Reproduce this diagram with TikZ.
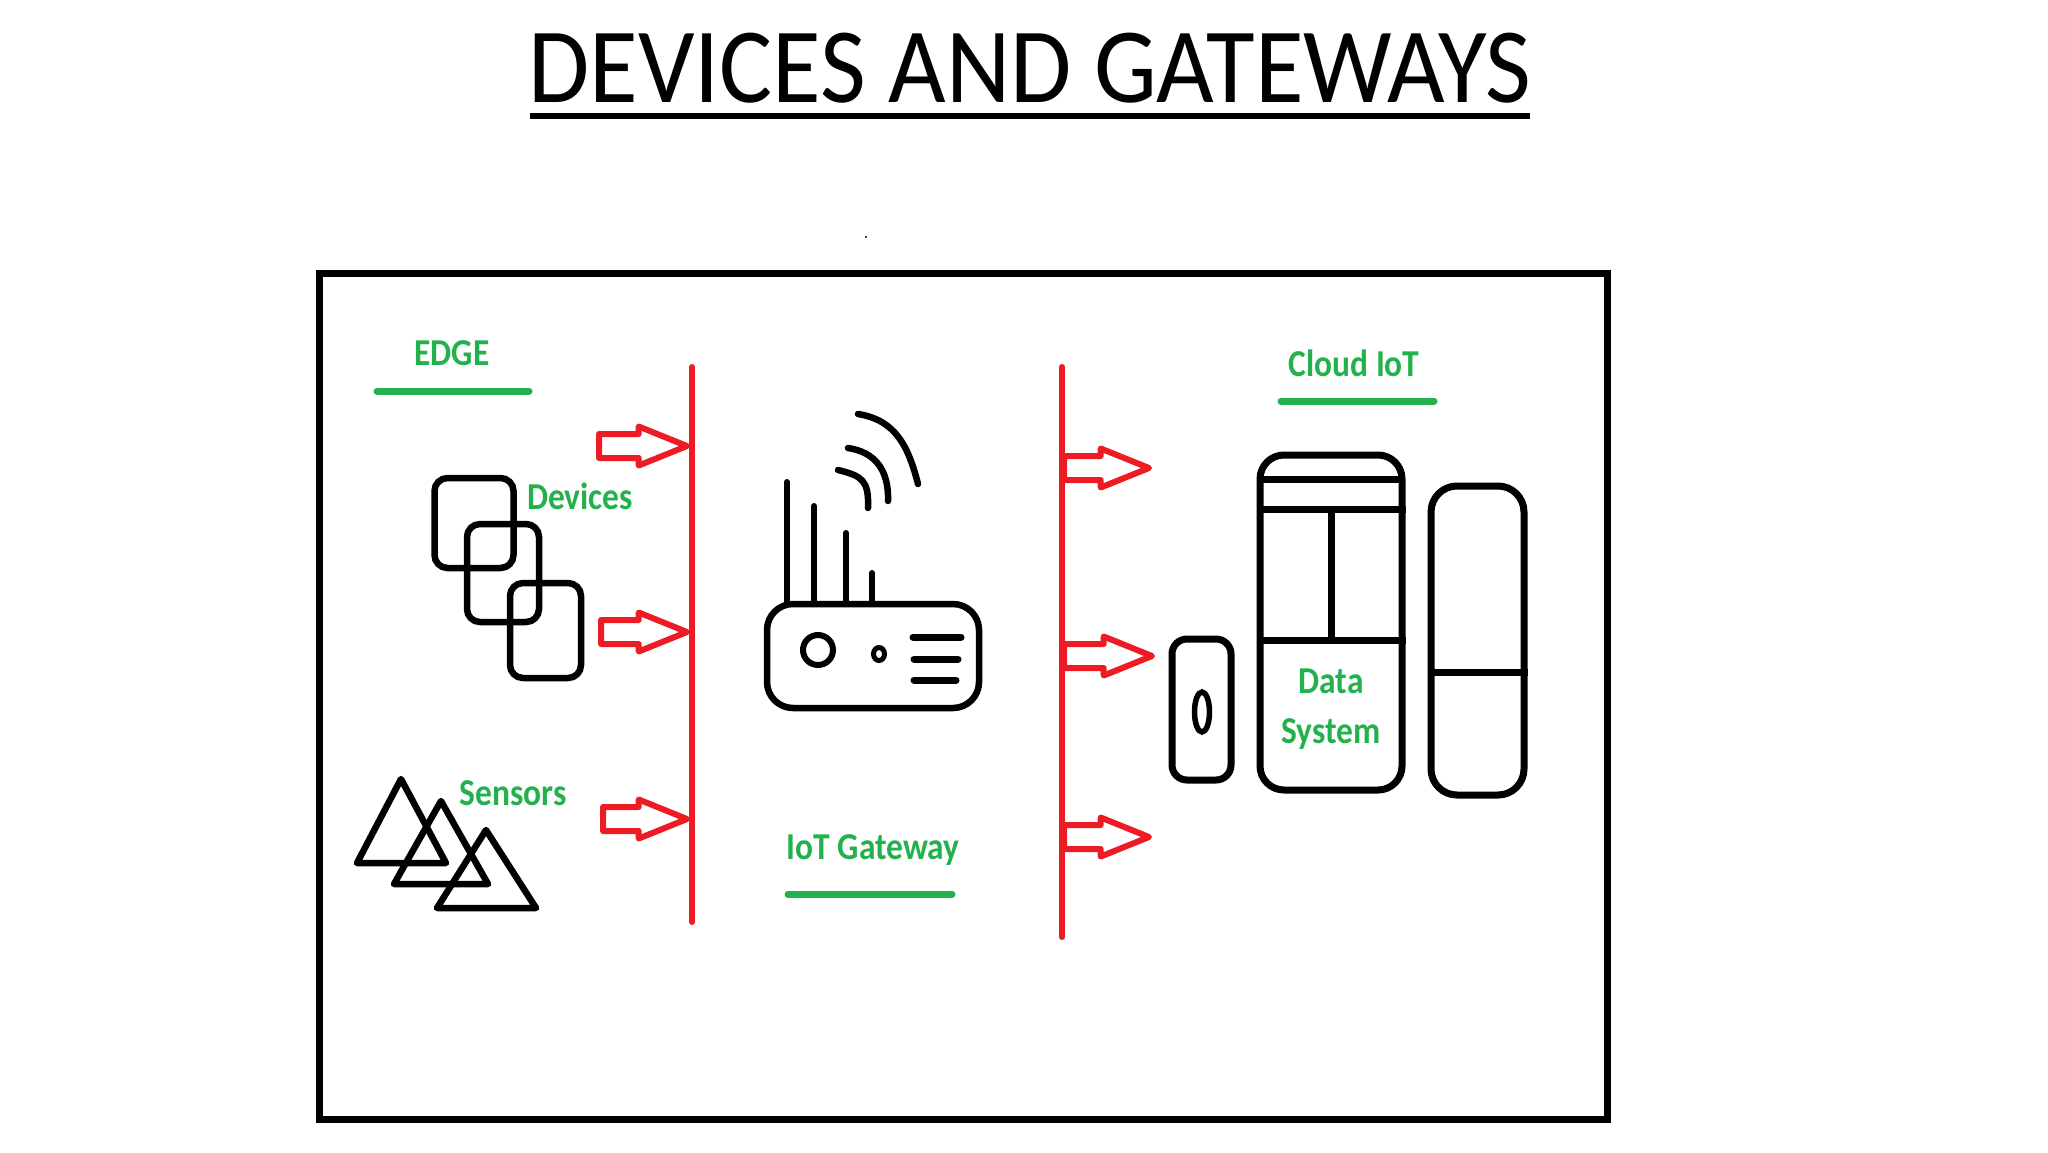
\documentclass[tikz,border=0pt]{standalone}
\usepackage{fontspec}
\setmainfont{Carlito}
\newfontfamily\titlefont{Carlito}[FakeStretch=0.93]
\newfontfamily\labelfont{Carlito}[FakeStretch=0.88]
\usetikzlibrary{shapes,arrows,positioning}
\definecolor{paintgreen}{HTML}{22B14C}
\definecolor{paintred}{HTML}{ED1C24}

\begin{document}
\begin{tikzpicture}[
    x=1pt, y=-1pt,
    title/.style={font=\titlefont\fontsize{107}{120}\selectfont, inner sep=0},
    label/.style={font=\labelfont\bfseries\fontsize{38}{50}\selectfont, text=paintgreen, inner sep=0, align=center},
    rule/.style={draw=paintgreen, line width=7pt, line cap=round},
    device/.style={rectangle, draw, line width=6.5pt, rounded corners=13pt, inner sep=0},
    sensor/.style={draw, line width=6.5pt, line join=round},
    bus/.style={draw=paintred, line width=6pt, line cap=round},
    flow/.style={single arrow, draw=paintred, line width=6pt, line join=round, inner sep=9pt, outer sep=0, minimum width=33pt, minimum height=88pt, single arrow head extend=7.5pt, single arrow tip angle=44},
    aerial/.style={draw, line width=6pt, line cap=round},
    wave/.style={draw, line width=6.5pt, line cap=round},
    slot/.style={draw, line width=7pt, line cap=round},
    part/.style={draw, line width=7pt}
]
\useasboundingbox (0,0) rectangle (2048,1152);

% Title
\node[title] (title) at (1030,68) {DEVICES AND GATEWAYS};
\draw[line width=5.5pt] (530,116) -- (1530,116);
\fill (866,237) circle (1.2pt);

% Outer frame
\node[rectangle, draw, line width=7pt, inner sep=0, minimum width=1288pt, minimum height=846pt] (frame) at (963.5,696) {};

% Edge
\node[label] (edge) at (452,353) {EDGE};
\draw[rule] (377,391) -- (529,391);

% Devices
\node[device, minimum width=79pt, minimum height=90pt] (dev_a) at (474,523) {};
\node[device, minimum width=72pt, minimum height=98pt] (dev_b) at (503,573) {};
\node[device, minimum width=71pt, minimum height=95pt] (dev_c) at (545.5,630.5) {};
\node[label] (devices) at (580,496) {Devices};

% Sensors
\draw[sensor] (401,779) -- (357,863) -- (446,863) -- cycle;
\draw[sensor] (441,801) -- (394,884) -- (488,884) -- cycle;
\draw[sensor] (486,830) -- (437,908) -- (536,908) -- cycle;
\node[label] (sensors) at (513,793) {Sensors};

% Arrows into left bus
\node[flow, anchor=tip] (in_a) at (687,446) {};
\node[flow, anchor=tip, minimum height=86pt] (in_b) at (687,632) {};
\node[flow, anchor=tip, minimum height=84pt] (in_c) at (687,819) {};
\draw[bus] (692,367) -- (692,922);

% Gateway body
\node[rectangle, draw, line width=6.5pt, rounded corners=26pt, inner sep=0, minimum width=212pt, minimum height=104pt] (router) at (873,656) {};
\node[circle, draw, line width=6pt, inner sep=0, minimum size=30pt] (lamp) at (818,650) {};
\node[ellipse, draw, line width=5pt, inner sep=0, minimum width=11pt, minimum height=13pt] (led) at (879,654) {};
\draw[slot] (913,637) -- (961,637);
\draw[slot] (914,659) -- (958,659);
\draw[slot] (914,680) -- (956,680);

% Aerials
\draw[aerial] (787,482) -- (787,604);
\draw[aerial] (814,506) -- (814,604);
\draw[aerial] (846,533) -- (846,604);
\draw[aerial] (872,573) -- (872,604);

% Signal waves
\draw[wave] (858,414) .. controls (895,420) and (908,445) .. (918,484);
\draw[wave] (848,448) .. controls (875,452) and (889,470) .. (888,501);
\draw[wave] (838,470) .. controls (862,476) and (869,480) .. (868,508);

% Gateway label
\node[label] (gateway) at (873,850) {IoT Gateway};
\draw[rule] (788,894) -- (952,894);

% Arrows out of right bus
\node[flow, anchor=tip, minimum height=85pt] (out_a) at (1149,468) {};
\node[flow, anchor=tip, minimum height=88pt] (out_b) at (1152,656) {};
\node[flow, anchor=tip, minimum height=85pt] (out_c) at (1149,837) {};
\draw[bus] (1062,367) -- (1062,937);

% Cloud label
\node[label] (cloud) at (1354,363) {Cloud IoT};
\draw[rule] (1281,401) -- (1434,401);

% Small unit
\node[rectangle, part, rounded corners=15pt, inner sep=0, minimum width=59pt, minimum height=141pt] (unit) at (1201.5,709.5) {};
\node[ellipse, draw, line width=5.5pt, inner sep=0, minimum width=15pt, minimum height=40pt] (unit_hole) at (1202,712) {};

% Data system
\node[rectangle, part, rounded corners=24pt, inner sep=0, minimum width=142pt, minimum height=335pt] (store) at (1331,622.5) {};
\draw[part] (1260,479) -- (1402,479);
\draw[part] (1260,509) -- (1406,509);
\draw[part] (1260,640) -- (1406,640);
\draw[part] (1331,509) -- (1331,637);
\node[label] (store_text) at (1331,709) {Data\\System};

% Right unit
\node[rectangle, part, rounded corners=26pt, inner sep=0, minimum width=93pt, minimum height=309pt] (rack) at (1477.5,640.5) {};
\draw[part] (1431,672) -- (1528,672);

\end{tikzpicture}
\end{document}
